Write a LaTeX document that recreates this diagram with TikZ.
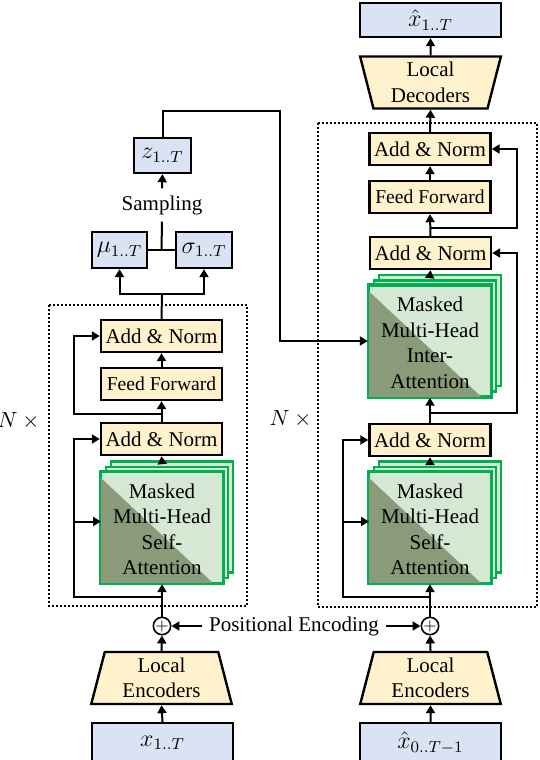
\documentclass[tikz,border=0pt]{standalone}
\usepackage{fontspec}
\setmainfont{Liberation Serif}
\usepackage{tikz}
\usetikzlibrary{arrows.meta,calc,shapes.geometric}
\definecolor{ioblue}{RGB}{218,227,243}
\definecolor{ffyel}{RGB}{255,242,204}
\definecolor{attlight}{RGB}{213,232,212}
\definecolor{attdark}{RGB}{137,155,121}
\definecolor{attedge}{RGB}{0,176,80}
\tikzset{
  blk/.style={draw, line width=1.2pt, fill=ffyel, minimum width=60.5pt, minimum height=16pt, inner sep=0},
  ffblk/.style={blk, font=\fontsize{9.8}{12}\selectfont},
  iobox/.style={draw, line width=1.2pt, fill=ioblue, minimum width=70.5pt, minimum height=17pt, inner sep=0,
    font=\fontsize{11.5}{13}\selectfont},
  lochead/.style={trapezium, trapezium angle=77, trapezium stretches=true, draw, line width=1.2pt,
    fill=ffyel, minimum width=70.5pt, minimum height=26pt, align=center, inner sep=0},
  plus/.style={circle, draw, line width=0.8pt, inner sep=0, minimum size=8pt, font=\footnotesize},
  arr/.style={-{Triangle[length=4pt,width=4.5pt]}, line width=1pt},
  wire/.style={line width=1pt},
  layerframe/.style={line width=1pt, dash pattern=on 1pt off 1pt},
  attwall/.style={draw=attedge, line width=1.2pt, fill=attlight},
  pics/attstack/.style = {
    code = {
    \draw[attwall] (-51,-66) rectangle (71,45);
    \draw[attwall] (-56,-60.5) rectangle (66,50.5);
    \node[attwall, minimum width=61pt, minimum height=55.5pt, inner sep=0] (-box) at (0,0) {};
    \fill[attdark] ([yshift=-3pt]-box.north west) -- ([xshift=-5pt]-box.south east) -- (-box.south west) -- cycle;
    \draw[draw=attedge, line width=1.2pt] (-box.north west) rectangle (-box.south east);
    \node[align=center] (-txt) at (0,2) {Masked\\Multi-Head\\#1\\Attention};
    \coordinate (-top) at (0,-66);
    \coordinate (-in) at (-61,-6);
    }
  }
}
\begin{document}
\begin{tikzpicture}[x=0.5pt, y=-0.5pt, font=\fontsize{10.5}{12.75}\selectfont]
\useasboundingbox (0,0) rectangle (540,760);

% the N x layer frames
\draw[layerframe] (49,305) rectangle (247,606);
\draw[layerframe] (318,123) rectangle (537,607);
\node (nL) at (21,421) {$N\times{}$};
\node (nR) at (293,419) {$N\times{}$};

% encoder column
\node[iobox, minimum height=20pt] (xin) at (162.5,743) {$x_{1..T}$};
\node[lochead] (encL) at (161.5,678) {Local\\Encoders};
\node[plus] (plusL) at (162,626) {$+$};
\pic (saL) at (162,527.5) {attstack=Self-};
\node[blk] (anL1) at (161.5,439) {Add \& Norm};
\node[ffblk] (ffL) at (161.5,384) {Feed Forward};
\node[blk] (anL2) at (161.5,336) {Add \& Norm};
\node[iobox, minimum width=27.5pt, minimum height=18pt] (mu) at (119.5,250) {$\mu_{1..T}$};
\node[iobox, minimum width=28pt, minimum height=18pt] (sigma) at (204,250) {$\sigma_{1..T}$};
\node (samp) at (162,205) {Sampling};
\node[iobox, minimum width=28.5pt, minimum height=17.5pt] (z) at (162.5,155.5) {$z_{1..T}$};

% decoder column
\node[iobox, minimum height=20pt] (xhz) at (430.5,743) {$\hat{x}_{0..T-1}$};
\node[lochead] (encR) at (430.5,678) {Local\\Encoders};
\node[plus] (plusR) at (430,626) {$+$};
\pic (saR) at (430,527.5) {attstack=Self-};
\node[blk] (anR1) at (430,440) {Add \& Norm};
\pic (iaR) at (430,341) {attstack=Inter-};
\node[blk] (anR2) at (430.5,253) {Add \& Norm};
\node[ffblk] (ffR) at (430,197) {Feed Forward};
\node[blk] (anR3) at (430,149) {Add \& Norm};
\node[lochead, shape border rotate=180] (decR) at (430.5,82.5) {Local\\Decoders};
\node[iobox] (xh) at (430.5,20) {$\hat{x}_{1..T}$};

\node (pe) at (294,626) {Positional Encoding};

% branch points
\coordinate (brL1) at (162,597);
\coordinate (rsL1) at (74,597);
\coordinate (brL2) at (162,414);
\coordinate (rsL2) at (74,414);
\coordinate (spL) at (162,294);
\coordinate (zup) at (280,111);
\coordinate (brR1) at (430,597);
\coordinate (rsR1) at (343,597);
\coordinate (brR2) at (430,413);
\coordinate (rsR2) at (517,413);
\coordinate (brR3) at (430,228);
\coordinate (rsR3) at (517,228);

% encoder wiring
\draw[arr] (xin.north) -- (encL.south);
\draw[arr] (encL.north) -- (plusL.south);
\draw[arr] (pe.west) -- (plusL.east);
\draw[arr] (plusL.north) -- (saL-box.south);
\draw[arr] (brL1) -- (rsL1) |- (anL1.west);
\draw[arr] (rsL1 |- saL-in) -- (saL-in);
\draw[arr] (saL-top) -- (anL1.south);
\draw[arr] (anL1.north) -- (ffL.south);
\draw[arr] (brL2) -- (rsL2) |- (anL2.west);
\draw[arr] (ffL.north) -- (anL2.south);
\draw[wire] (anL2.north) -- (spL);
\draw[arr] (spL) -| (mu.south);
\draw[arr] (spL) -| (sigma.south);
\draw[wire] (mu.east) -- (sigma.west);
\draw[wire] ($(mu.east)!0.5!(sigma.west)$) -- (samp.south);
\draw[arr] (samp.north) -- (z.south);
\draw[arr] (z.north) |- (zup) |- (iaR-box.west);

% decoder wiring
\draw[arr] (xhz.north) -- (encR.south);
\draw[arr] (encR.north) -- (plusR.south);
\draw[arr] (pe.east) -- (plusR.west);
\draw[arr] (plusR.north) -- (saR-box.south);
\draw[arr] (brR1) -- (rsR1) |- (anR1.west);
\draw[arr] (rsR1 |- saR-in) -- (saR-in);
\draw[arr] (saR-top) -- (anR1.south);
\draw[arr] (anR1.north) -- (iaR-box.south);
\draw[arr] (brR2) -- (rsR2) |- (anR2.east);
\draw[arr] (iaR-top) -- (anR2.south);
\draw[arr] (anR2.north) -- (ffR.south);
\draw[arr] (brR3) -- (rsR3) |- (anR3.east);
\draw[arr] (ffR.north) -- (anR3.south);
\draw[arr] (anR3.north) -- (decR.south);
\draw[arr] (decR.north) -- (xh.south);

\end{tikzpicture}
\end{document}
